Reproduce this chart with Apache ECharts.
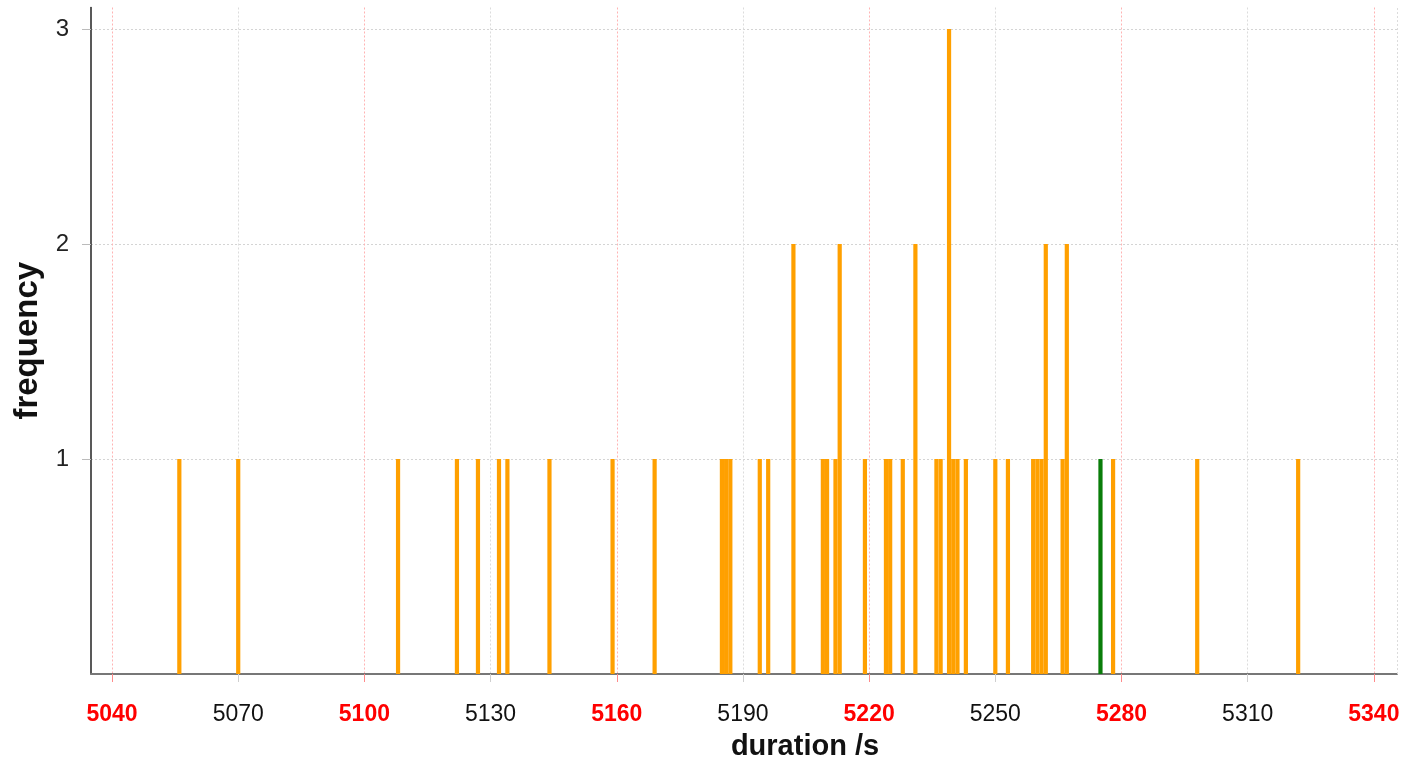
<!DOCTYPE html>
<html>
<head>
<meta charset="utf-8">
<script src="https://cdn.jsdelivr.net/npm/echarts@6/dist/echarts.min.js"></script>
<style>
html,body{margin:0;padding:0;background:#fff;}
#chart{width:1414px;height:764px;}
</style>
</head>
<body>
<div id="chart"></div>
<script>
// ---- data ----
const orangeDurations = [5056,5070,5108,5122,5127,5132,5134,5144,5159,5169,5185,5186,5187,5194,5196,5202,5209,5210,5212,5213,5219,5224,5225,5228,5231,5236,5237,5239,5240,5241,5243,5250,5253,5259,5260,5261,5262,5266,5267,5278,5298,5322];
const orangeCounts    = [1,1,1,1,1,1,1,1,1,1,1,1,1,1,1,2,1,1,1,2,1,1,1,1,2,1,1,3,1,1,1,1,1,1,1,1,2,1,2,1,1,1];
const greenDurations  = [5275];
const greenCounts     = [1];
const redTicks   = [5040,5100,5160,5220,5280,5340];
const blackTicks = [5070,5130,5190,5250,5310];
const yTicks     = [1,2,3];
const xMin = 5035, xMax = 5345.5, yMin = 0, yMax = 3.1;

const FONT = '"Liberation Sans",Arial,sans-serif';

const chart = echarts.init(document.getElementById('chart'), null, {renderer:'canvas'});

const pair = (xs, ys) => xs.map((x,i)=>[x, ys[i]]);
const plain = v => String(v);

const option = {
  animation:false,
  backgroundColor:'#ffffff',
  grid:{left:91,right:17,top:7.5,bottom:90,containLabel:false,outerBoundsMode:'none'},
  xAxis:[
    {
      type:'value', min:xMin, max:xMax, position:'bottom',
      name:'duration /s', nameLocation:'middle', nameGap:58,
      nameTextStyle:{fontFamily:FONT,fontWeight:'bold',fontSize:29,color:'#111',padding:[0,0,0,122]},
      axisLine:{show:true,onZero:false,lineStyle:{color:'#777',width:2}},
      axisTick:{show:true,customValues:redTicks,length:8,lineStyle:{color:'#ff8a8a',width:1}},
      axisLabel:{customValues:redTicks,formatter:plain,margin:29,color:'#ff0000',fontWeight:'bold',fontSize:23,fontFamily:FONT},
      splitLine:{show:true,lineStyle:{color:'#ffb3b3',type:[2,2],width:1}}
    },
    {
      type:'value', min:xMin, max:xMax, position:'bottom',
      axisLine:{show:false},
      axisTick:{show:true,customValues:blackTicks,length:8,lineStyle:{color:'#cfcfcf',width:1}},
      axisLabel:{customValues:blackTicks,formatter:plain,margin:29,color:'#111',fontSize:23,fontFamily:FONT},
      splitLine:{show:true,lineStyle:{color:'#dcdcdc',type:[2,2],width:1}}
    }
  ],
  yAxis:{
    type:'value', min:yMin, max:yMax,
    name:'frequency', nameLocation:'middle', nameGap:47, nameRotate:90,
    nameTextStyle:{fontFamily:FONT,fontWeight:'bold',fontSize:33,color:'#111'},
    axisLine:{show:true,lineStyle:{color:'#222',width:1.5}},
    axisTick:{show:true,customValues:yTicks,length:9,lineStyle:{color:'#bbb',width:1}},
    axisLabel:{customValues:yTicks,formatter:plain,margin:22,color:'#222',fontSize:24,fontFamily:FONT},
    splitLine:{show:true,lineStyle:{color:'#d4d4d4',type:[2,2],width:1}}
  },
  series:[
    {
      type:'bar', name:'orange', xAxisIndex:0,
      data:pair(orangeDurations, orangeCounts),
      barWidth:4.2, barGap:'-100%',
      itemStyle:{color:'#ffa000'},
      markLine:{
        silent:true, symbol:'none', label:{show:false},
        lineStyle:{color:'#dcdcdc',type:[2,2],width:1},
        data:[{xAxis:xMax}]
      }
    },
    {
      type:'bar', name:'green', xAxisIndex:0,
      data:pair(greenDurations, greenCounts),
      barWidth:4.2, barGap:'-100%',
      itemStyle:{color:'#0a7d0a'}
    }
  ]
};
chart.setOption(option);
</script>
</body>
</html>
